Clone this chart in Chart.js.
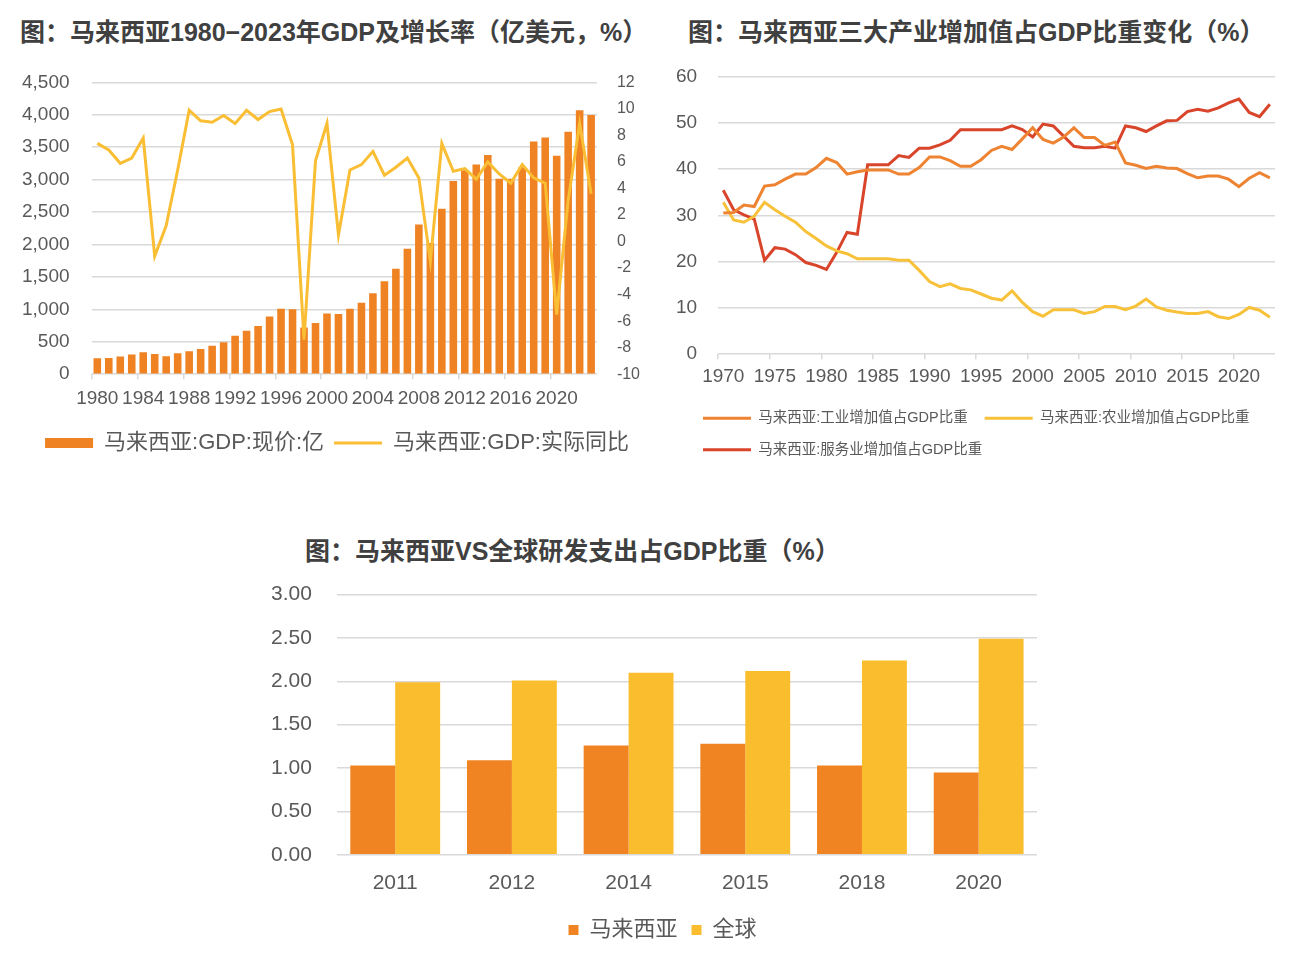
<!DOCTYPE html>
<html>
<head>
<meta charset="utf-8">
<script src="https://cdn.jsdelivr.net/npm/chart.js@4.4.1/dist/chart.umd.min.js"></script>
<style>
body { margin:0; background:#fff; width:1294px; height:955px; position:relative; overflow:hidden; }
.title { position:absolute; font-family:"Liberation Sans","Noto Sans CJK SC",sans-serif; font-weight:bold; font-size:25px; line-height:25px; color:#404040; white-space:nowrap; }
canvas { position:absolute; }
</style>
</head>
<body>
<div class="title" style="left:20px;top:20px">图：马来西亚1980−2023年GDP及增长率（亿美元，%）</div>
<div class="title" style="left:688px;top:20px">图：马来西亚三大产业增加值占GDP比重变化（%）</div>
<div class="title" style="left:305px;top:539px">图：马来西亚VS全球研发支出占GDP比重（%）</div>
<canvas id="c1" width="660" height="415" style="left:0;top:49px"></canvas>
<canvas id="c2" width="644" height="423" style="left:650px;top:44px"></canvas>
<canvas id="c3" width="820" height="394" style="left:240px;top:557px"></canvas>
<script>
// 图1：GDP（亿美元）及实际同比（%）
var gdpYears = ['1980','1981','1982','1983','1984','1985','1986','1987','1988','1989',
    '1990','1991','1992','1993','1994','1995','1996','1997','1998','1999',
    '2000','2001','2002','2003','2004','2005','2006','2007','2008','2009',
    '2010','2011','2012','2013','2014','2015','2016','2017','2018','2019',
    '2020','2021','2022','2023'];
var gdpValues = [245, 250, 273, 303, 339, 312, 277, 322, 353, 388,
    440, 491, 592, 669, 745, 888, 1009, 1000, 722, 791,
    938, 928, 1008, 1102, 1247, 1435, 1627, 1935, 2308, 2023,
    2550, 2979, 3144, 3233, 3381, 3014, 3013, 3191, 3588, 3652,
    3370, 3738, 4070, 3997];
var gdpGrowth = [7.4, 6.9, 5.9, 6.3, 7.8, -1.1, 1.2, 5.4, 9.9, 9.1,
    9.0, 9.5, 8.9, 9.9, 9.2, 9.8, 10.0, 7.3, -7.4, 6.1,
    8.9, 0.5, 5.4, 5.8, 6.8, 5.0, 5.6, 6.3, 4.8, -1.5,
    7.4, 5.3, 5.5, 4.7, 6.0, 5.1, 4.4, 5.8, 4.8, 4.4,
    -5.5, 3.1, 8.9, 3.6];

// 图2：三大产业增加值占GDP比重（%）
var sectorYears = ['1970','1971','1972','1973','1974','1975','1976','1977','1978','1979',
    '1980','1981','1982','1983','1984','1985','1986','1987','1988','1989',
    '1990','1991','1992','1993','1994','1995','1996','1997','1998','1999',
    '2000','2001','2002','2003','2004','2005','2006','2007','2008','2009',
    '2010','2011','2012','2013','2014','2015','2016','2017','2018','2019',
    '2020','2021','2022','2023'];
var industryShare = [30.5, 30.6, 32.2, 31.9, 36.3, 36.6, 37.8, 38.9, 38.9, 40.3,
    42.3, 41.4, 38.9, 39.4, 39.8, 39.8, 39.8, 38.9, 38.9, 40.3,
    42.6, 42.6, 41.8, 40.6, 40.6, 42.0, 44.0, 44.9, 44.2, 46.5,
    48.9, 46.4, 45.6, 46.9, 48.9, 46.8, 46.8, 45.1, 45.8, 41.3,
    40.8, 40.1, 40.6, 40.2, 40.1, 39.0, 38.1, 38.5, 38.5, 37.8,
    36.2, 38.0, 39.2, 38.1];
var agricultureShare = [32.8, 29.0, 28.5, 29.8, 32.8, 31.2, 29.8, 28.5, 26.5, 25.0,
    23.4, 22.3, 21.7, 20.6, 20.6, 20.6, 20.6, 20.3, 20.3, 18.1,
    15.7, 14.6, 15.2, 14.2, 13.9, 13.0, 12.1, 11.7, 13.7, 11.2,
    9.2, 8.2, 9.6, 9.6, 9.6, 8.8, 9.2, 10.3, 10.3, 9.6,
    10.4, 11.9, 10.2, 9.5, 9.1, 8.8, 8.8, 9.2, 8.1, 7.7,
    8.6, 10.1, 9.5, 8.0];
var servicesShare = [35.4, 31.2, 30.1, 29.2, 20.3, 23.0, 22.7, 21.5, 19.8, 19.2,
    18.3, 22.0, 26.3, 25.9, 40.9, 40.9, 40.9, 42.9, 42.5, 44.5,
    44.5, 45.2, 46.2, 48.5, 48.5, 48.5, 48.5, 48.5, 49.3, 48.5,
    46.9, 49.7, 49.3, 47.1, 44.9, 44.6, 44.6, 44.9, 44.5, 49.3,
    48.9, 48.1, 49.3, 50.4, 50.5, 52.4, 52.9, 52.5, 53.2, 54.3,
    55.1, 52.2, 51.3, 54.0];

// 图3：研发支出占GDP比重（%）
var rdYears = ['2011', '2012', '2014', '2015', '2018', '2020'];
var rdMalaysia = [1.03, 1.09, 1.26, 1.28, 1.03, 0.95];
var rdWorld = [1.99, 2.01, 2.10, 2.12, 2.24, 2.49];

var GRID = '#d9d9d9';
var TICK = '#595959';
var NONE = 'rgba(0,0,0,0)';

Chart.defaults.font.family = '"Liberation Sans", "Noto Sans CJK SC", sans-serif';
Chart.defaults.color = TICK;

// 图例整体横向平移
var legendShift = {
    id: 'legendShift',
    afterLayout: function(chart, args, opts) {
        var dx = opts.dx || 0;
        chart.legend.left += dx;
        chart.legend.right += dx;
    }
};

function legendItems(styles, widths) {
    return function(chart) {
        var items = Chart.defaults.plugins.legend.labels.generateLabels(chart);
        items.forEach(function(it) {
            it.pointStyle = styles[it.datasetIndex];
            it.lineWidth = widths[it.datasetIndex];
        });
        return items;
    };
}

new Chart(document.getElementById('c1'), {
    data: {
        labels: gdpYears,
        datasets: [{
            type: 'bar',
            label: '马来西亚:GDP:现价:亿',
            data: gdpValues,
            backgroundColor: '#ef8222',
            yAxisID: 'y',
            order: 1,
            categoryPercentage: 1,
            barPercentage: 0.66
        }, {
            type: 'line',
            label: '马来西亚:GDP:实际同比',
            data: gdpGrowth,
            borderColor: '#f9be33',
            backgroundColor: '#f9be33',
            borderWidth: 3,
            pointRadius: 0,
            tension: 0,
            yAxisID: 'y1',
            order: 0
        }]
    },
    plugins: [legendShift],
    options: {
        responsive: false,
        animation: false,
        devicePixelRatio: 1,
        layout: { padding: { left: 0, right: 0, top: 0, bottom: 0 } },
        scales: {
            x: {
                offset: true,
                grid: {
                    offset: true, drawOnChartArea: false, tickLength: 5, lineWidth: 1.5,
                    color: function(c) { return c.index % 4 === 0 ? GRID : NONE; }
                },
                border: { display: false },
                ticks: {
                    autoSkip: false, maxRotation: 0, padding: 8, font: { size: 19 },
                    callback: function(v, i) { return i % 4 === 0 ? gdpYears[i] : ''; }
                },
                afterFit: function(s) { s.height += 4; }
            },
            y: {
                position: 'left', min: 0, max: 4500,
                ticks: {
                    stepSize: 500, padding: 22, font: { size: 19 },
                    callback: function(v) { return v.toLocaleString('en-US'); }
                },
                grid: { color: GRID, lineWidth: 1.5, drawTicks: false },
                border: { display: false }
            },
            y1: {
                position: 'right', min: -10, max: 12,
                ticks: { stepSize: 2, padding: 20, font: { size: 16 } },
                grid: { drawOnChartArea: false, drawTicks: false },
                border: { display: false }
            }
        },
        plugins: {
            tooltip: { enabled: false },
            legendShift: { dx: 7 },
            legend: {
                position: 'bottom',
                labels: {
                    usePointStyle: true, pointStyleWidth: 48, boxHeight: 10, padding: 10,
                    font: { size: 22 },
                    sort: function(a, b) { return a.datasetIndex - b.datasetIndex; },
                    generateLabels: legendItems(['rect', 'line'], [0, 3])
                }
            }
        }
    }
});

new Chart(document.getElementById('c2'), {
    type: 'line',
    data: {
        labels: sectorYears,
        datasets: [{
            label: '马来西亚:工业增加值占GDP比重',
            data: industryShare,
            borderColor: '#ee8332',
            backgroundColor: '#ee8332'
        }, {
            label: '马来西亚:农业增加值占GDP比重',
            data: agricultureShare,
            borderColor: '#f8c13a',
            backgroundColor: '#f8c13a'
        }, {
            label: '马来西亚:服务业增加值占GDP比重',
            data: servicesShare,
            borderColor: '#d8452b',
            backgroundColor: '#d8452b'
        }]
    },
    plugins: [legendShift],
    options: {
        responsive: false,
        animation: false,
        devicePixelRatio: 1,
        elements: { line: { borderWidth: 3, tension: 0 }, point: { radius: 0 } },
        layout: { padding: { left: 5, right: 19, top: 0, bottom: 0 } },
        scales: {
            x: {
                offset: true,
                grid: {
                    offset: true, drawOnChartArea: false, tickLength: 5, lineWidth: 1.5,
                    color: function(c) { return c.index % 5 === 0 ? GRID : NONE; }
                },
                border: { display: false },
                ticks: {
                    autoSkip: false, maxRotation: 0, padding: 6, font: { size: 19 },
                    callback: function(v, i) { return i % 5 === 0 ? sectorYears[i] : ''; }
                }
            },
            y: {
                min: 0, max: 60,
                ticks: { stepSize: 10, padding: 21, font: { size: 19 } },
                grid: { color: GRID, lineWidth: 1.5, drawTicks: false },
                border: { display: false }
            }
        },
        plugins: {
            tooltip: { enabled: false },
            legendShift: { dx: 31 },
            legend: {
                position: 'bottom',
                align: 'start',
                labels: {
                    usePointStyle: true, pointStyleWidth: 48, boxHeight: 14.5, padding: 17,
                    font: { size: 14.5 },
                    generateLabels: legendItems(['line', 'line', 'line'], [3, 3, 3])
                }
            }
        }
    }
});

new Chart(document.getElementById('c3'), {
    type: 'bar',
    data: {
        labels: rdYears,
        datasets: [{
            label: '马来西亚',
            data: rdMalaysia,
            backgroundColor: '#f08423'
        }, {
            label: '全球',
            data: rdWorld,
            backgroundColor: '#fabd2d'
        }]
    },
    plugins: [legendShift],
    options: {
        responsive: false,
        animation: false,
        devicePixelRatio: 1,
        categoryPercentage: 0.77,
        barPercentage: 1,
        layout: { padding: { left: 6, right: 23, top: 0, bottom: 0 } },
        scales: {
            x: {
                grid: { display: false },
                border: { display: false },
                ticks: { padding: 8, font: { size: 21 } },
                afterFit: function(s) { s.height += 1; }
            },
            y: {
                min: 0, max: 3,
                ticks: {
                    stepSize: 0.5, padding: 25, font: { size: 21 },
                    callback: function(v) { return v.toFixed(2); }
                },
                grid: { color: GRID, lineWidth: 1.5, drawTicks: false },
                border: { display: false }
            }
        },
        plugins: {
            tooltip: { enabled: false },
            legendShift: { dx: 21 },
            legend: {
                position: 'bottom',
                labels: {
                    usePointStyle: true, pointStyleWidth: 10, boxHeight: 10, padding: 14,
                    font: { size: 22 },
                    generateLabels: legendItems(['rect', 'rect'], [0, 0])
                }
            }
        }
    }
});
</script>
</body>
</html>
